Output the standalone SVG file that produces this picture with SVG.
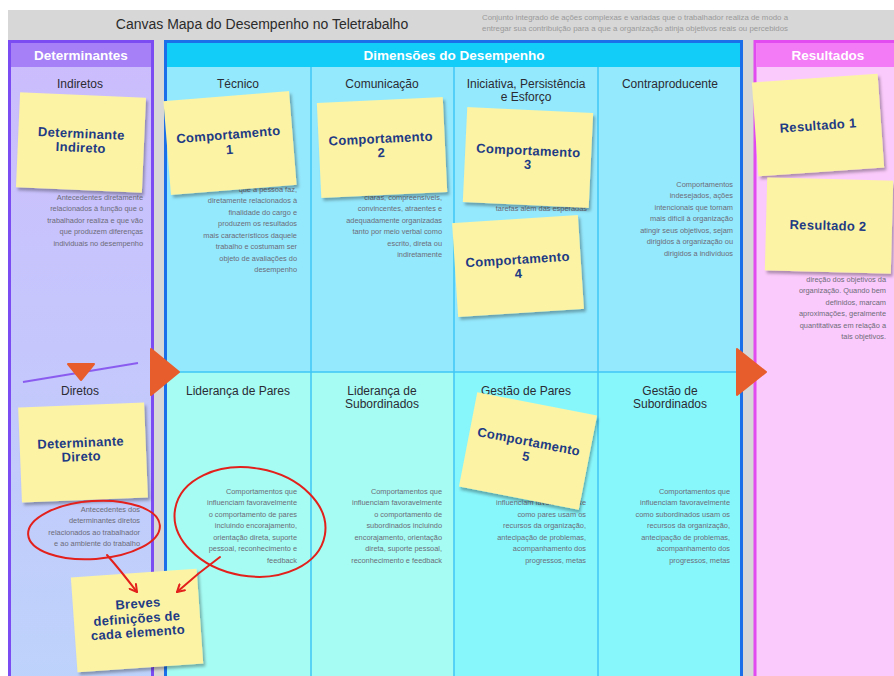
<svg xmlns="http://www.w3.org/2000/svg" width="894" height="676" viewBox="0 0 894 676">
<style>
.desc{font-family:"Liberation Sans",Arial,sans-serif;font-size:7.4px;fill:#6c6c78;text-anchor:end}
.colh{font-family:"Liberation Sans",Arial,sans-serif;font-size:12px;fill:#2b2b33;text-anchor:middle}
.hdr{font-family:"Liberation Sans",Arial,sans-serif;font-size:13.5px;font-weight:bold;fill:#ffffff;text-anchor:middle}
.hand{font-family:"Liberation Sans",Arial,sans-serif;font-size:13px;font-weight:bold;fill:#1f3b84;text-anchor:middle;letter-spacing:0.3px}
.sticky{fill:#fcf4a4;filter:url(#sh)}
.red{fill:none;stroke:#e3201b;stroke-width:2;stroke-linecap:round}
.grid{stroke:#3fc6f4;stroke-width:1.5}
.tri{fill:#e85d2c;stroke:#e85d2c;stroke-width:2;stroke-linejoin:round}
</style>
<defs>
<filter id="sh" x="-15%" y="-15%" width="135%" height="140%">
<feDropShadow dx="2" dy="3" stdDeviation="1.8" flood-color="#000" flood-opacity="0.3"/>
</filter>
<linearGradient id="detg" x1="0" y1="0" x2="0" y2="1">
<stop offset="0" stop-color="#ccbcfd"/>
<stop offset="1" stop-color="#bdd3fb"/>
</linearGradient>
<marker id="ah" viewBox="0 0 10 10" refX="8" refY="5" markerWidth="5" markerHeight="5" orient="auto" markerUnits="strokeWidth">
<path d="M1 1 L8 5 L1 9" fill="none" stroke="#e3201b" stroke-width="2" stroke-linecap="round" stroke-linejoin="round"/>
</marker>
</defs>

<rect x="0" y="0" width="894" height="676" fill="#ffffff"/>
<rect x="8" y="10" width="886" height="666" fill="#d7d7d7"/>

<g id="header">
<text x="262" y="29" font-family="'Liberation Sans',Arial,sans-serif" font-size="14" fill="#2b2b2b" text-anchor="middle">Canvas Mapa do Desempenho no Teletrabalho</text>
<text x="482" y="20" font-family="'Liberation Sans',Arial,sans-serif" font-size="7" fill="#9a9a9a" textLength="306" lengthAdjust="spacingAndGlyphs">Conjunto integrado de ações complexas e variadas que o trabalhador realiza de modo a</text>
<text x="482" y="31" font-family="'Liberation Sans',Arial,sans-serif" font-size="7" fill="#9a9a9a" textLength="306" lengthAdjust="spacingAndGlyphs">entregar sua contribuição para a que a organização atinja objetivos reais ou percebidos</text>
</g>

<g id="determinantes">
<rect x="9.5" y="41.5" width="143" height="650" fill="url(#detg)" stroke="#7a4cf2" stroke-width="3"/>
<rect x="11" y="43" width="140" height="24" fill="#a580f7"/>
<text class="hdr" x="81" y="59.5">Determinantes</text>
<text class="colh" x="80" y="88">Indiretos</text>
<text class="desc" x="143" y="199.5">Antecedentes diretamente</text>
<text class="desc" x="143" y="211">relacionados à função que o</text>
<text class="desc" x="143" y="222.5">trabalhador realiza e que vão</text>
<text class="desc" x="143" y="234">que produzem diferenças</text>
<text class="desc" x="143" y="245.5">individuais no desempenho</text>
<text class="colh" x="80" y="395">Diretos</text>
<text class="desc" x="140" y="511.5">Antecedentes dos</text>
<text class="desc" x="140" y="523">determinantes diretos</text>
<text class="desc" x="140" y="534.5">relacionados ao trabalhador</text>
<text class="desc" x="140" y="546">e ao ambiente do trabalho</text>
</g>

<g id="dimensoes">
<rect x="165.5" y="41.5" width="576" height="650" fill="#95e9fd" stroke="#1b6fe8" stroke-width="3"/>
<rect x="311" y="372" width="143" height="304" fill="#a6fcf3"/>
<rect x="167" y="372" width="144" height="304" fill="#a6fcf3"/>
<rect x="454" y="372" width="286" height="304" fill="#88f7fc"/>
<rect x="167" y="43" width="573" height="24" fill="#12cdf8"/>
<text class="hdr" x="454" y="60">Dimensões do Desempenho</text>
<line class="grid" x1="311" y1="67" x2="311" y2="676"/>
<line class="grid" x1="454" y1="67" x2="454" y2="676"/>
<line class="grid" x1="598" y1="67" x2="598" y2="676"/>
<line class="grid" x1="167" y1="372" x2="740" y2="372"/>
</g>

<g id="tecnico">
<text class="colh" x="238" y="88">Técnico</text>
<text class="desc" x="297" y="191.5">que a pessoa faz,</text>
<text class="desc" x="297" y="203">diretamente relacionados à</text>
<text class="desc" x="297" y="214.5">finalidade do cargo e</text>
<text class="desc" x="297" y="226">produzem os resultados</text>
<text class="desc" x="297" y="237.5">mais característicos daquele</text>
<text class="desc" x="297" y="249">trabalho e costumam ser</text>
<text class="desc" x="297" y="260.5">objeto de avaliações do</text>
<text class="desc" x="297" y="272">desempenho</text>
</g>
<g id="comunicacao">
<text class="colh" x="382" y="88">Comunicação</text>
<text class="desc" x="442" y="199.5">claras, compreensíveis,</text>
<text class="desc" x="442" y="211">convincentes, atraentes e</text>
<text class="desc" x="442" y="222.5">adequadamente organizadas</text>
<text class="desc" x="442" y="234">tanto por meio verbal como</text>
<text class="desc" x="442" y="245.5">escrito, direta ou</text>
<text class="desc" x="442" y="257">indiretamente</text>
</g>
<g id="iniciativa">
<text class="colh" x="526" y="88">Iniciativa, Persistência</text>
<text class="colh" x="526" y="101">e Esforço</text>
<text class="desc" x="587" y="211">tarefas além das esperadas</text>
</g>
<g id="contraproducente">
<text class="colh" x="670" y="88">Contraproducente</text>
<text class="desc" x="733" y="186.5">Comportamentos</text>
<text class="desc" x="733" y="198">indesejados, ações</text>
<text class="desc" x="733" y="209.5">intencionais que tornam</text>
<text class="desc" x="733" y="221">mais difícil à organização</text>
<text class="desc" x="733" y="232.5">atingir seus objetivos, sejam</text>
<text class="desc" x="733" y="244">dirigidos à organização ou</text>
<text class="desc" x="733" y="255.5">dirigidos a indivíduos</text>
</g>
<g id="lideranca-pares">
<text class="colh" x="238" y="395">Liderança de Pares</text>
<text class="desc" x="297" y="493.5">Comportamentos que</text>
<text class="desc" x="297" y="505">influenciam favoravelmente</text>
<text class="desc" x="297" y="516.5">o comportamento de pares</text>
<text class="desc" x="297" y="528">incluindo encorajamento,</text>
<text class="desc" x="297" y="539.5">orientação direta, suporte</text>
<text class="desc" x="297" y="551">pessoal, reconhecimento e</text>
<text class="desc" x="297" y="562.5">feedback</text>
</g>
<g id="lideranca-subordinados">
<text class="colh" x="382" y="395">Liderança de</text>
<text class="colh" x="382" y="408">Subordinados</text>
<text class="desc" x="442" y="493.5">Comportamentos que</text>
<text class="desc" x="442" y="505">influenciam favoravelmente</text>
<text class="desc" x="442" y="516.5">o comportamento de</text>
<text class="desc" x="442" y="528">subordinados incluindo</text>
<text class="desc" x="442" y="539.5">encorajamento, orientação</text>
<text class="desc" x="442" y="551">direta, suporte pessoal,</text>
<text class="desc" x="442" y="562.5">reconhecimento e feedback</text>
</g>
<g id="gestao-pares">
<text class="colh" x="526" y="395">Gestão de Pares</text>
<text class="desc" x="586" y="505">influenciam favoravelmente</text>
<text class="desc" x="586" y="516.5">como pares usam os</text>
<text class="desc" x="586" y="528">recursos da organização,</text>
<text class="desc" x="586" y="539.5">antecipação de problemas,</text>
<text class="desc" x="586" y="551">acompanhamento dos</text>
<text class="desc" x="586" y="562.5">progressos, metas</text>
</g>
<g id="gestao-subordinados">
<text class="colh" x="670" y="395">Gestão de</text>
<text class="colh" x="670" y="408">Subordinados</text>
<text class="desc" x="730" y="493.5">Comportamentos que</text>
<text class="desc" x="730" y="505">influenciam favoravelmente</text>
<text class="desc" x="730" y="516.5">como subordinados usam os</text>
<text class="desc" x="730" y="528">recursos da organização,</text>
<text class="desc" x="730" y="539.5">antecipação de problemas,</text>
<text class="desc" x="730" y="551">acompanhamento dos</text>
<text class="desc" x="730" y="562.5">progressos, metas</text>
</g>

<g id="resultados">
<rect x="755" y="41.5" width="150" height="650" fill="#fbcafc" stroke="#e14bf0" stroke-width="3"/>
<rect x="756.5" y="43" width="140" height="24" fill="#f37bf6"/>
<text class="hdr" x="828" y="59.5">Resultados</text>
<text class="desc" x="886" y="281.5">direção dos objetivos da</text>
<text class="desc" x="886" y="293">organização. Quando bem</text>
<text class="desc" x="886" y="304.5">definidos, marcam</text>
<text class="desc" x="886" y="316">aproximações, geralmente</text>
<text class="desc" x="886" y="327.5">quantitativas em relação a</text>
<text class="desc" x="886" y="339">tais objetivos.</text>
</g>

<g id="marcadores">
<line x1="23" y1="382" x2="138" y2="363" stroke="#8b5cf0" stroke-width="2"/>
<polygon class="tri" points="68,364 94,364 81,380"/>
<polygon class="tri" points="151,349 179,372 151,395"/>
<polygon class="tri" points="737,349 766,372 737,395"/>
</g>

<g id="sticky-determinante-indireto" transform="translate(81,142) rotate(2.5)">
<rect class="sticky" x="-63" y="-47" width="126" height="95"/>
<text class="hand" x="0" y="-4">Determinante</text>
<text class="hand" x="0" y="10">Indireto</text>
</g>
<g id="sticky-comportamento-1" transform="translate(230,143) rotate(-4.6)">
<rect class="sticky" x="-63" y="-47" width="126" height="94"/>
<text class="hand" x="-1" y="-4">Comportamento</text>
<text class="hand" x="-1" y="11">1</text>
</g>
<g id="sticky-comportamento-2" transform="translate(382,147) rotate(-2.7)">
<rect class="sticky" x="-63" y="-47" width="126" height="95"/>
<text class="hand" x="-1" y="-4">Comportamento</text>
<text class="hand" x="-1" y="10">2</text>
</g>
<g id="sticky-comportamento-3" transform="translate(528,157) rotate(2.7)">
<rect class="sticky" x="-63" y="-47" width="126" height="95"/>
<text class="hand" x="0" y="-2">Comportamento</text>
<text class="hand" x="0" y="12">3</text>
</g>
<g id="sticky-comportamento-4" transform="translate(518,266) rotate(-3.7)">
<rect class="sticky" x="-63" y="-47" width="126" height="94"/>
<text class="hand" x="0" y="-2">Comportamento</text>
<text class="hand" x="0" y="12">4</text>
</g>
<g id="sticky-resultado-1" transform="translate(818,125) rotate(-4)">
<rect class="sticky" x="-63" y="-47" width="126" height="94"/>
<text class="hand" x="0" y="5">Resultado 1</text>
</g>
<g id="sticky-resultado-2" transform="translate(829,226) rotate(1.5)">
<rect class="sticky" x="-63" y="-47" width="126" height="93"/>
<text class="hand" x="-1" y="4">Resultado 2</text>
</g>
<g id="sticky-determinante-direto" transform="translate(83,452) rotate(-2.3)">
<rect class="sticky" x="-63" y="-47" width="126" height="95"/>
<text class="hand" x="-2" y="-5">Determinante</text>
<text class="hand" x="-2" y="9">Direto</text>
</g>
<g id="sticky-comportamento-5" transform="translate(528,451) rotate(11)">
<rect class="sticky" x="-61" y="-48" width="122" height="96"/>
<text class="hand" x="-1" y="-5">Comportamento</text>
<text class="hand" x="-1" y="10">5</text>
</g>

<g id="anotacoes">
<ellipse class="red" cx="94" cy="530" rx="66" ry="29" transform="rotate(-4 94 530)"/>
<ellipse class="red" cx="250" cy="522" rx="76" ry="54" transform="rotate(10 250 522)"/>
</g>

<g id="sticky-breves" transform="translate(137,620) rotate(-4)">
<rect class="sticky" x="-63" y="-47" width="126" height="95"/>
<text class="hand" x="2" y="-12">Breves</text>
<text class="hand" x="0" y="3">definições de</text>
<text class="hand" x="0" y="17">cada elemento</text>
</g>

<g id="connectors">
<path class="red" d="M107 555 Q121 571 137 592" marker-end="url(#ah)"/>
<path class="red" d="M220 557 Q198 573 177 592" marker-end="url(#ah)"/>
</g>
</svg>
